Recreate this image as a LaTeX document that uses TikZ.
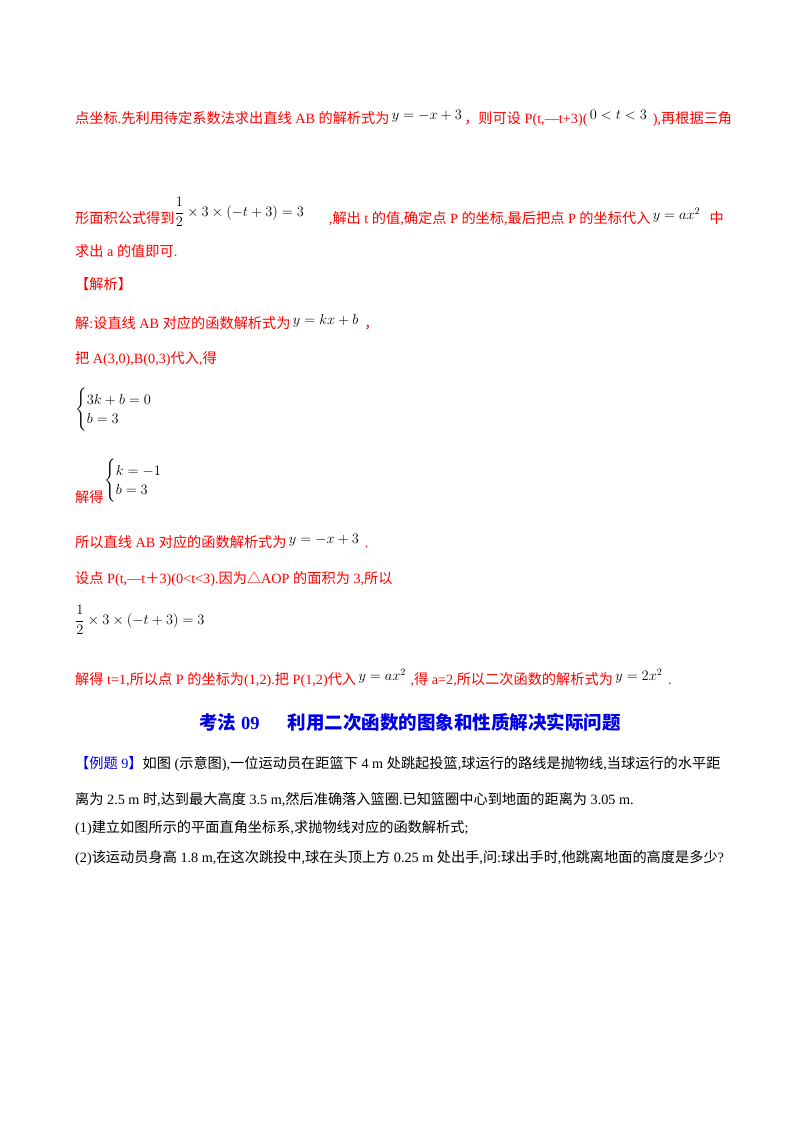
\documentclass[tikz,border=0pt]{standalone}
\usepackage{fontspec}
\usepackage{amsmath}
\setmainfont{Liberation Serif}
\newfontfamily\cjk{Noto Sans CJK SC}
\makeatletter
\XeTeXinterchartokenstate=1
\newXeTeXintercharclass\cjkcls
\count@="3000
\loop\ifnum\count@<"303F \XeTeXcharclass\count@=\cjkcls \advance\count@ by 1 \repeat
\count@="4E00
\loop\ifnum\count@<"9FFF \XeTeXcharclass\count@=\cjkcls \advance\count@ by 1 \repeat
\count@="FF00
\loop\ifnum\count@<"FFEF \XeTeXcharclass\count@=\cjkcls \advance\count@ by 1 \repeat
\XeTeXcharclass"25B3=\cjkcls
\makeatother
\XeTeXinterchartoks 0 \cjkcls = {\begingroup\cjk}
\XeTeXinterchartoks 4095 \cjkcls = {\begingroup\cjk}
\XeTeXinterchartoks \cjkcls 0 = {\endgroup}
\XeTeXinterchartoks \cjkcls 4095 = {\endgroup}
\definecolor{rd}{RGB}{255,0,0}
\definecolor{bl}{RGB}{0,0,230}
\tikzset{ln/.style={anchor=west,inner sep=0pt,font=\fontsize{14.2}{16}\selectfont,text=rd},
 bk/.style={ln,text=black}}
\newcommand\mb[1]{\,\raisebox{4pt}{\textcolor{black}{$#1$}}\,}
\begin{document}
\begin{tikzpicture}[x=1pt,y=-1pt]
\useasboundingbox (0,0) rectangle (800,1132);
\node[ln] (l1) at (75,118) {点坐标.先利用待定系数法求出直线 AB 的解析式为\mb{y=-x+3}，则可设 P(t,—t+3)(\mb{0<t<3}\ ),再根据三角};
\node[ln] (l2) at (75,212) {形面积公式得到\textcolor{black}{\raisebox{7pt}{$\dfrac{1}{2}\times3\times(-t+3)=3$}}\hspace{25pt},解出 t 的值,确定点 P 的坐标,最后把点 P 的坐标代入\mb{y=ax^2}\ \ 中};
\node[ln] (l3) at (75,251) {求出 a 的值即可.};
\node[ln] (l4) at (75,284) {【解析】};
\node[ln] (l5) at (75,322) {解:设直线 AB 对应的函数解析式为\mb{y=kx+b}\ ，};
\node[ln] (l6) at (75,359) {把 A(3,0),B(0,3)代入,得};
\node[bk] (l7) at (75,410) {$\begin{cases}3k+b=0\\ b=3\end{cases}$};
\node[ln] (l8a) at (75,497) {解得};
\node[bk] (l8) at (104,481) {$\begin{cases}k=-1\\ b=3\end{cases}$};
\node[ln] (l9) at (75,541) {所以直线 AB 对应的函数解析式为\mb{y=-x+3}\ .};
\node[ln] (l10) at (75,579) {设点 P(t,—t＋3)(0<t<3).因为△AOP 的面积为 3,所以};
\node[bk] (l11) at (75,620) {$\dfrac{1}{2}\times3\times(-t+3)=3$};
\node[ln] (l12) at (75,678) {解得 t=1,所以点 P 的坐标为(1,2).把 P(1,2)代入\mb{y=ax^2}\,,得 a=2,所以二次函数的解析式为\mb{y=2x^2}\ .};
\node[ln,anchor=center,text=bl,font=\fontsize{18.5}{20}\selectfont\bfseries] (h) at (410,722) {考法 09\hspace{28pt}利用二次函数的图象和性质解决实际问题};
\node[bk] (p1) at (75,764) {\textcolor{bl}{【例题 9】}如图 (示意图),一位运动员在距篮下 4 m 处跳起投篮,球运行的路线是抛物线,当球运行的水平距};
\node[bk] (p2) at (75,800) {离为 2.5 m 时,达到最大高度 3.5 m,然后准确落入篮圈.已知篮圈中心到地面的距离为 3.05 m.};
\node[bk] (p3) at (75,828) {(1)建立如图所示的平面直角坐标系,求抛物线对应的函数解析式;};
\node[bk] (p4) at (75,858) {(2)该运动员身高 1.8 m,在这次跳投中,球在头顶上方 0.25 m 处出手,问:球出手时,他跳离地面的高度是多少?};
\end{tikzpicture}
\end{document}
